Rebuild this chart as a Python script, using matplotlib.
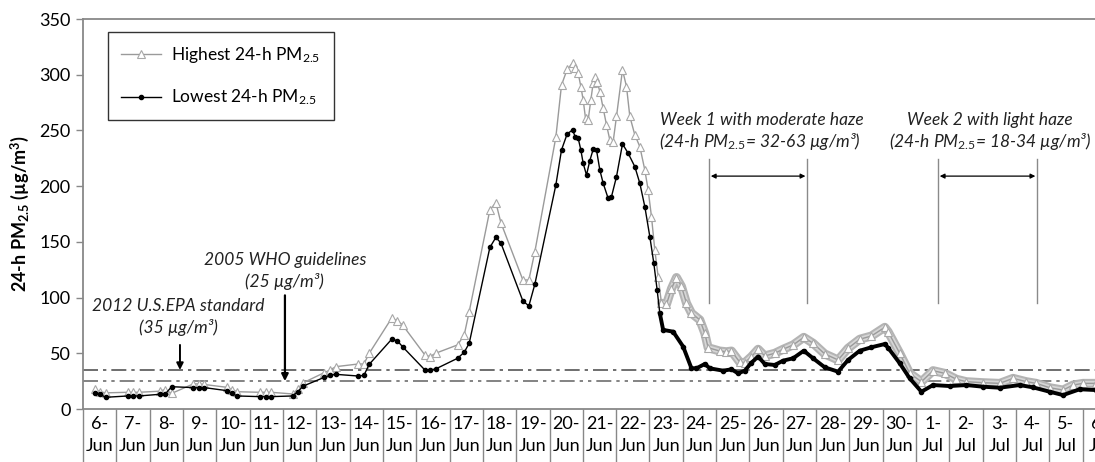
import matplotlib
matplotlib.use("Agg")
import matplotlib.pyplot as plt
import numpy as np

plt.rcParams['font.family'] = ['Lato', 'DejaVu Sans']
plt.rcParams['mathtext.fontset'] = 'custom'
plt.rcParams['mathtext.rm'] = 'Lato'
plt.rcParams['mathtext.it'] = 'Lato:italic'
plt.rcParams['mathtext.bf'] = 'Lato:bold'

# category labels (one per day, 6-Jun .. 6-Jul)
day_labels = ["6-\nJun", "7-\nJun", "8-\nJun", "9-\nJun", "10-\nJun", "11-\nJun", "12-\nJun",
              "13-\nJun", "14-\nJun", "15-\nJun", "16-\nJun", "17-\nJun", "18-\nJun", "19-\nJun",
              "20-\nJun", "21-\nJun", "22-\nJun", "23-\nJun", "24-\nJun", "25-\nJun", "26-\nJun",
              "27-\nJun", "28-\nJun", "29-\nJun", "30-\nJun", "1-\nJul", "2-\nJul", "3-\nJul",
              "4-\nJul", "5-\nJul", "6-\nJul"]

# highest 24-h PM2.5 (time in days since 6-Jun 00:00)
high_day = [0.36, 0.51, 0.68, 1.34, 1.51, 1.68, 2.31, 2.46, 2.66, 3.31, 3.48, 3.64,
            4.31, 4.46, 4.63, 5.31, 5.48, 5.64, 6.29, 6.44, 6.61, 7.24, 7.41, 7.59,
            8.26, 8.43, 8.59, 9.26, 9.43, 9.59, 10.26, 10.41, 10.58, 11.24, 11.44, 11.59,
            12.21, 12.39, 12.54, 13.2, 13.38, 13.56,
            14.19, 14.36, 14.53, 14.69, 14.77, 14.86, 14.94, 15.01, 15.08, 15.16, 15.24,
            15.31, 15.36, 15.43, 15.51, 15.61, 15.71, 15.81, 15.91, 16.01, 16.19, 16.31,
            16.41, 16.56, 16.71, 16.86, 16.96, 17.06, 17.16, 17.26, 17.36, 17.51, 17.66,
            17.81, 17.96, 18.11, 18.26, 18.51, 18.66, 18.76, 19.11, 19.31, 19.46, 19.71,
            19.86, 20.06, 20.26, 20.46, 20.76, 21.01, 21.31, 21.63, 21.91, 22.26, 22.66,
            22.96, 23.31, 23.66, 24.06, 24.16, 24.51, 24.81, 25.16, 25.51, 25.86, 26.21,
            26.51, 27.01, 27.51, 27.91, 28.31, 28.61, 29.01, 29.41, 29.71, 30.01, 30.4]
high_pm = [17.7, 15.5, 14.5, 15, 15, 15, 16, 17.5, 14, 22.5, 22.5, 22,
           19.5, 17.5, 15.5, 15, 15, 15, 13.5, 17.7, 23.6, 32.6, 35, 38,
           40.4, 40.4, 50, 81.4, 79.3, 75.4, 48.5, 47, 50, 57.5, 66.4, 87.4,
           178.6, 185.2, 167.3, 115.8, 115.8, 141.2,
           243.9, 290.8, 304.8, 310.3, 305.8, 301.3, 289.4, 277.4, 261, 259.4, 277.4,
           292.4, 298.3, 293.8, 284.9, 269.9, 255, 241.5, 240, 262.6, 304.3, 289.4,
           262.6, 246, 235.5, 214.5, 196.6, 172.6, 142.7, 118.8, 94.9, 94, 108,
           118, 110, 95, 86, 80, 68, 55, 52, 51.4, 52, 42,
           41.6, 47, 53.6, 47.6, 50, 53.6, 57.5, 64.3, 59, 49.4, 44,
           54.5, 62.6, 65.5, 73.3, 69.4, 50, 32, 24.5, 34.4, 32, 26.7,
           24.5, 23.6, 23, 27.5, 24.5, 23, 19.1, 17, 21.5, 23, 23]

# lowest 24-h PM2.5
low_day = [0.36, 0.51, 0.68, 1.34, 1.51, 1.68, 2.31, 2.46, 2.66, 3.31, 3.48, 3.64,
           4.31, 4.46, 4.63, 5.31, 5.48, 5.64, 6.29, 6.44, 6.61, 7.24, 7.41, 7.59,
           8.26, 8.43, 8.59, 9.26, 9.43, 9.59, 10.26, 10.41, 10.58, 11.24, 11.44, 11.59,
           12.21, 12.39, 12.54, 13.2, 13.38, 13.56,
           14.19, 14.36, 14.53, 14.69, 14.77, 14.86, 14.94, 15.01, 15.11, 15.21, 15.31,
           15.41, 15.51, 15.61, 15.76, 15.86, 16.01, 16.19, 16.36, 16.56, 16.71, 16.86,
           17.01, 17.13, 17.23, 17.31, 17.41, 17.71, 18.01, 18.26, 18.41, 18.66, 18.81,
           19.21, 19.46, 19.66, 19.86, 20.06, 20.26, 20.46, 20.76, 21.01, 21.31, 21.63,
           21.91, 22.26, 22.66, 22.96, 23.31, 23.66, 24.06, 24.16, 24.51, 24.81, 25.16,
           25.51, 26.01, 26.51, 27.01, 27.51, 28.11, 28.51, 29.01, 29.41, 29.91, 30.4]
low_pm = [14.6, 13.2, 10.5, 11.7, 11.7, 11.7, 13.2, 13.2, 20.0, 19.2, 19.2, 19.2,
          16.5, 14.0, 11.7, 11.1, 11.1, 11.1, 11.7, 15.5, 20.6, 28.4, 30.2, 31.1,
          29.6, 30.2, 40.1, 62.5, 61.3, 55.9, 35.0, 35.0, 35.9, 45.5, 50.9, 59.0,
          145, 154, 149, 97, 92.5, 112,
          201, 232.5, 246.9, 250.4, 244.5, 243, 232.5, 220.5, 210, 223, 233,
          232.5, 214.5, 202.6, 189, 190.6, 208.5, 237.9, 229.5, 217.5, 202.6, 181.6,
          154.7, 130.8, 106.8, 85.9, 71, 69.4, 56, 36.5, 36.5, 40.4, 36.5,
          34.4, 35.6, 32, 34.4, 41.6, 47, 40.4, 39.5, 43.4, 45.5, 52.3,
          45.5, 37.4, 33.5, 44, 52.3, 55.4, 58.3, 55, 41, 27.5, 15.5,
          21.5, 20.6, 21.5, 20.0, 19.1, 21.5, 19.4, 15.5, 12.5, 17.7, 17]

# guideline levels (ug/m3)
epa_level = 35
who_level = 25

fig = plt.figure(figsize=(10.95, 4.62), dpi=100)
ax = fig.add_axes([83 / 1095, 53 / 462, 1033 / 1095, 390 / 462])

high_day = np.array(high_day)
high_pm = np.array(high_pm)
low_day = np.array(low_day)
low_pm = np.array(low_pm)

# dense (hourly) part of the record looks like a thick band
dense_h = high_day >= 17.3
dense_l = low_day >= 17.3
ax.plot(high_day[dense_h], high_pm[dense_h], color="#b4b4b4", lw=6.5, solid_capstyle="round", zorder=2)
ax.plot(high_day[dense_h], high_pm[dense_h], color="#d6d6d6", lw=3.5, zorder=2)
ax.plot(high_day, high_pm, color="#9a9a9a", lw=1, marker="^", ms=5.5, mfc="white",
        mec="#a8a8a8", mew=0.8, zorder=3, label="Highest 24-h PM$_{2.5}$")
ax.plot(low_day[dense_l], low_pm[dense_l], color="black", lw=2.8, zorder=4)
ax.plot(low_day, low_pm, color="black", lw=1, marker="o", ms=3, zorder=5,
        label="Lowest 24-h PM$_{2.5}$")

# guideline lines
ax.axhline(epa_level, color="#555555", lw=1.2, ls=(0, (9, 3, 2, 3)), zorder=1)
ax.axhline(who_level, color="#6e6e6e", lw=1.2, ls=(0, (9, 3, 2, 3, 2, 3)), zorder=1)

# annotations
tfont = dict(fontsize=12.5, style="italic", color="#222222", ha="center", va="center")
ax.text(2.85, 92.5, "2012 U.S.EPA standard", **tfont)
ax.text(2.85, 72.7, "(35 µg/m³)", **tfont)
ax.annotate("", xy=(2.91, epa_level), xytext=(2.91, 57.5),
            arrowprops=dict(arrowstyle="-|>", color="black", lw=1.4, mutation_scale=10,
                            shrinkA=0, shrinkB=0))
ax.text(6.06, 133.8, "2005 WHO guidelines", **tfont)
ax.text(6.06, 114, "(25 µg/m³)", **tfont)
ax.annotate("", xy=(6.06, who_level), xytext=(6.06, 102),
            arrowprops=dict(arrowstyle="-|>", color="black", lw=1.6, mutation_scale=10,
                            shrinkA=0, shrinkB=0))

ax.text(20.38, 259.4, "Week 1 with moderate haze", **tfont)
ax.text(20.32, 239.7, "(24-h PM$_{2.5}$= 32-63 µg/m³)", **tfont)
ax.text(27.22, 259.4, "Week 2 with light haze", **tfont)
ax.text(27.22, 239.7, "(24-h PM$_{2.5}$= 18-34 µg/m³)", **tfont)

week_spans = [(18.79, 21.73), (25.66, 28.63)]
for x0, x1 in week_spans:
    ax.plot([x0, x0], [224.4, 95], color="#8a8a8a", lw=1, zorder=1)
    ax.plot([x1, x1], [224.4, 95], color="#8a8a8a", lw=1, zorder=1)
    ax.annotate("", xy=(x0 + 0.05, 209), xytext=(x1 - 0.05, 209),
                arrowprops=dict(arrowstyle="<|-|>", color="black", lw=0.9,
                                mutation_scale=7, shrinkA=0, shrinkB=0))

# axes formatting
ax.set_xlim(0, 31)
ax.set_ylim(0, 350)
ax.set_yticks(np.arange(0, 351, 50))
ax.tick_params(axis="y", labelsize=13, length=5, width=1, color="#888888", pad=4)
ax.set_xticks(np.arange(0, 32))
ax.set_xticklabels([])
ax.set_xticks(np.arange(31) + 0.5, minor=True)
ax.set_xticklabels(day_labels, minor=True, fontsize=13, linespacing=1.45)
ax.tick_params(axis="x", which="major", length=40, width=1, color="#888888")
ax.tick_params(axis="x", which="minor", length=0, pad=5)
ax.set_ylabel("24-h PM$_{\\mathbf{2.5}}$ (µg/m$^\\mathbf{3}$)", fontsize=13, fontweight="bold", labelpad=6)

for side in ["left", "bottom", "top"]:
    ax.spines[side].set_color("#888888")
    ax.spines[side].set_linewidth(1.3)
ax.spines["right"].set_visible(False)

leg = ax.legend(loc="upper left", bbox_to_anchor=(0.0242, 0.9667), borderaxespad=0,
                fancybox=False, frameon=True, edgecolor="black", fontsize=12.5,
                handlelength=2.3, handletextpad=0.6, labelspacing=1.3, borderpad=0.75)
leg.get_frame().set_linewidth(1)

fig.savefig("out.png", dpi=100)
